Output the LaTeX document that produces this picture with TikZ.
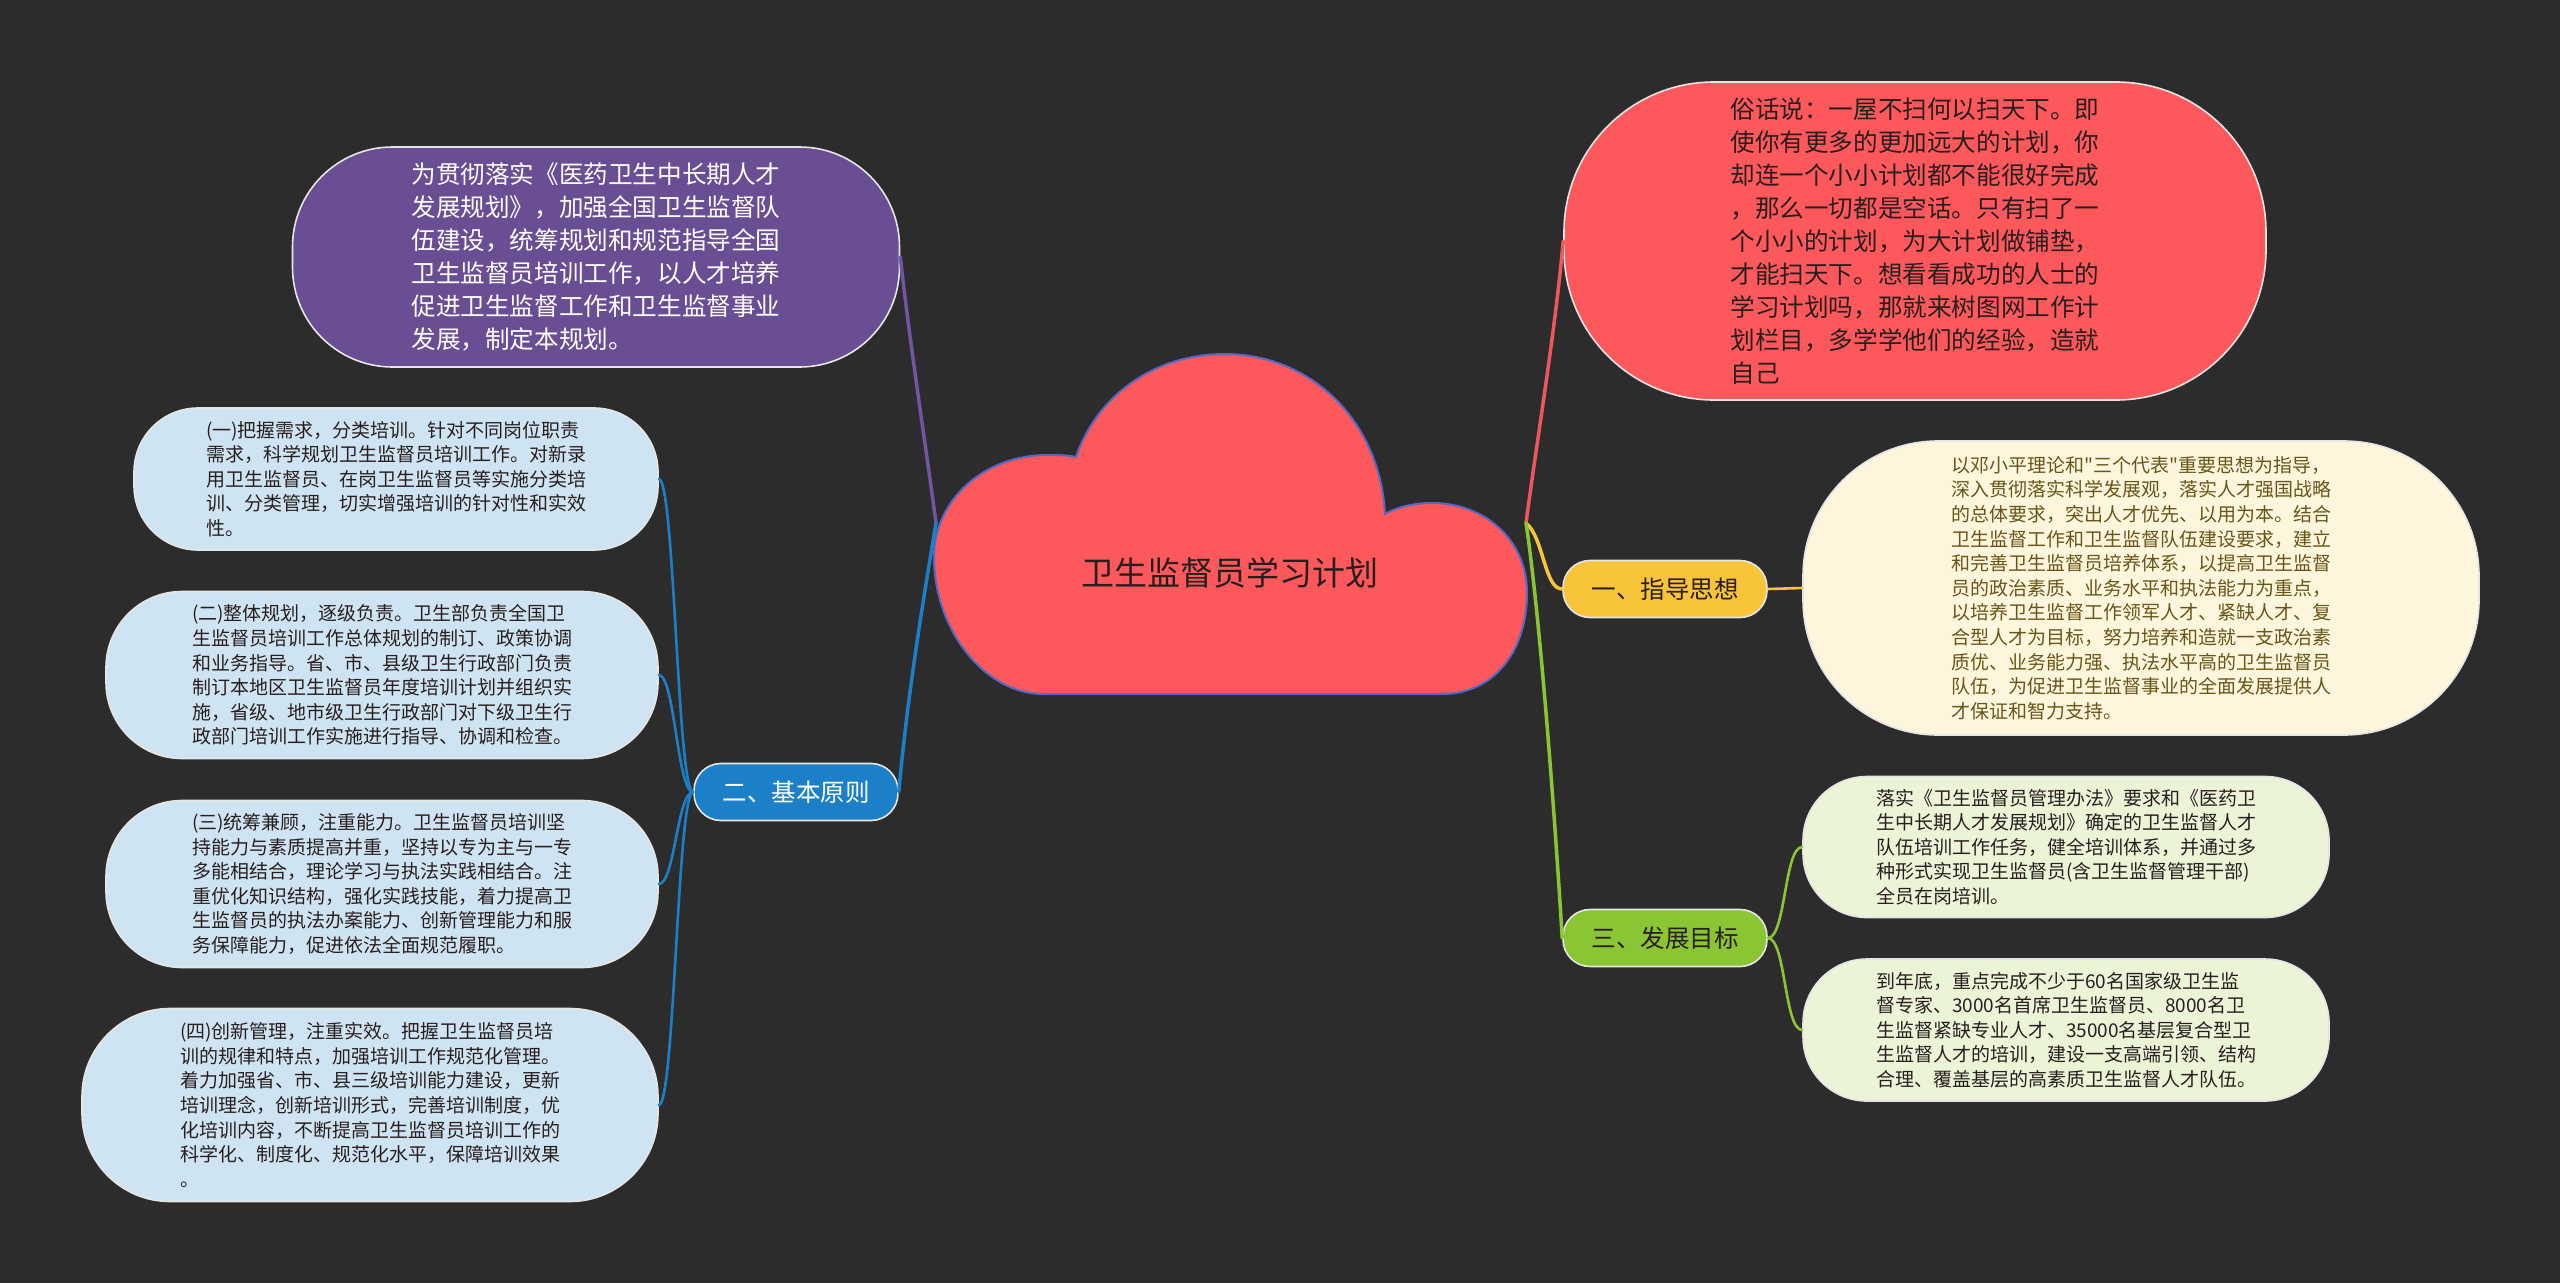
\documentclass[tikz,border=0pt]{standalone}
\usepackage{fontspec}
\setmainfont{Noto Sans CJK SC}[Ligatures=TeXOff]
\usetikzlibrary{positioning,calc}
\definecolor{bgdark}{RGB}{44,44,44}
\definecolor{cloudred}{RGB}{253,89,92}
\definecolor{cloudedge}{RGB}{84,104,196}
\definecolor{introfill}{RGB}{106,78,148}
\definecolor{introline}{RGB}{114,84,164}
\definecolor{quoteline}{RGB}{238,88,92}
\definecolor{guidefill}{RGB}{247,196,58}
\definecolor{creamfill}{RGB}{253,246,221}
\definecolor{creamtext}{RGB}{105,85,25}
\definecolor{goalfill}{RGB}{138,198,52}
\definecolor{goalleaf}{RGB}{236,244,216}
\definecolor{basisfill}{RGB}{28,128,200}
\definecolor{basisleaf}{RGB}{207,228,243}
\definecolor{darktext}{RGB}{40,30,30}
\tikzset{
  pillbox/.style={draw=white!90!black, line width=1.6pt, inner sep=0pt, align=left},
  topicbox/.style={pillbox, align=center, minimum width=204pt, minimum height=57pt,
                   rounded corners=27pt, font=\fontsize{24.5}{30}\selectfont},
  leafbox/.style={pillbox, text=darktext, font=\fontsize{19}{24.6}\selectfont},
  bigbox/.style={pillbox, font=\fontsize{24.6}{33}\selectfont},
  link/.style={line width=3.5pt, line cap=round},
  leaflink/.style={line width=2.6pt, line cap=round},
}

\begin{document}
\begin{tikzpicture}[x=1pt,y=-1pt]
\useasboundingbox (0,0) rectangle (2560,1283);
\fill[bgdark] (0,0) rectangle (2560,1283);

% central cloud
\draw[fill=cloudred, draw=cloudedge, line width=2pt]
  (1043,694) -- (1442,694)
  .. controls (1495,694) and (1527,650) .. (1527,593)
  .. controls (1527,540) and (1485,503) .. (1432,503)
  .. controls (1412,503) and (1395,508) .. (1385,514)
  .. controls (1380,420) and (1310,354) .. (1225,354)
  .. controls (1150,354) and (1095,400) .. (1076,457)
  .. controls (1067,455) and (1057,455) .. (1047,455)
  .. controls (984,455) and (934,500) .. (934,557)
  .. controls (934,630) and (985,694) .. (1043,694) -- cycle;
\node[text=darktext, font=\fontsize{33}{40}\selectfont] (root) at (1230,573) {卫生监督员学习计划};
\coordinate (rootL) at (936,523);
\coordinate (rootR) at (1526,523);

\node[bigbox, fill=introfill, text=white, minimum width=607pt, minimum height=220pt,
      rounded corners=100pt] (intro) at (596,257)
  {为贯彻落实《医药卫生中长期人才\\发展规划》，加强全国卫生监督队\\伍建设，统筹规划和规范指导全国\\卫生监督员培训工作，以人才培养\\促进卫生监督工作和卫生监督事业\\发展，制定本规划。};
\node[bigbox, fill=cloudred, text=darktext, minimum width=702pt, minimum height=318pt,
      rounded corners=150pt] (quote) at (1915,241)
  {俗话说：一屋不扫何以扫天下。即\\使你有更多的更加远大的计划，你\\却连一个小小计划都不能很好完成\\，那么一切都是空话。只有扫了一\\个小小的计划，为大计划做铺垫，\\才能扫天下。想看看成功的人士的\\学习计划吗，那就来树图网工作计\\划栏目，多学学他们的经验，造就\\自己};

\node[topicbox, fill=guidefill, text=darktext] (guide) at (1665,589) {一、指导思想};
\node[leafbox, fill=creamfill, text=creamtext, minimum width=676pt, minimum height=294pt,
      rounded corners=135pt] (guidetxt) at (2141,588)
  {以邓小平理论和"三个代表"重要思想为指导，\\深入贯彻落实科学发展观，落实人才强国战略\\的总体要求，突出人才优先、以用为本。结合\\卫生监督工作和卫生监督队伍建设要求，建立\\和完善卫生监督员培养体系，以提高卫生监督\\员的政治素质、业务水平和执法能力为重点，\\以培养卫生监督工作领军人才、紧缺人才、复\\合型人才为目标，努力培养和造就一支政治素\\质优、业务能力强、执法水平高的卫生监督员\\队伍，为促进卫生监督事业的全面发展提供人\\才保证和智力支持。};

\node[topicbox, fill=goalfill, text=darktext] (goal) at (1665,938) {三、发展目标};
\node[leafbox, fill=goalleaf, minimum width=526pt, minimum height=141pt,
      rounded corners=64pt] (goalA) at (2066,847)
  {落实《卫生监督员管理办法》要求和《医药卫\\生中长期人才发展规划》确定的卫生监督人才\\队伍培训工作任务，健全培训体系，并通过多\\种形式实现卫生监督员(含卫生监督管理干部)\\全员在岗培训。};
\node[leafbox, fill=goalleaf, minimum width=526pt, minimum height=142pt,
      rounded corners=64pt] (goalB) at (2066,1030)
  {到年底，重点完成不少于60名国家级卫生监\\督专家、3000名首席卫生监督员、8000名卫\\生监督紧缺专业人才、35000名基层复合型卫\\生监督人才的培训，建设一支高端引领、结构\\合理、覆盖基层的高素质卫生监督人才队伍。};

\node[topicbox, fill=basisfill, text=white] (basis) at (796,792) {二、基本原则};
\node[leafbox, fill=basisleaf, minimum width=524pt, minimum height=142pt,
      rounded corners=64pt] (basisA) at (396,479)
  {(一)把握需求，分类培训。针对不同岗位职责\\需求，科学规划卫生监督员培训工作。对新录\\用卫生监督员、在岗卫生监督员等实施分类培\\训、分类管理，切实增强培训的针对性和实效\\性。};
\node[leafbox, fill=basisleaf, minimum width=552pt, minimum height=167pt,
      rounded corners=76pt] (basisB) at (382,675)
  {(二)整体规划，逐级负责。卫生部负责全国卫\\生监督员培训工作总体规划的制订、政策协调\\和业务指导。省、市、县级卫生行政部门负责\\制订本地区卫生监督员年度培训计划并组织实\\施，省级、地市级卫生行政部门对下级卫生行\\政部门培训工作实施进行指导、协调和检查。};
\node[leafbox, fill=basisleaf, minimum width=552pt, minimum height=167pt,
      rounded corners=76pt] (basisC) at (382,884)
  {(三)统筹兼顾，注重能力。卫生监督员培训坚\\持能力与素质提高并重，坚持以专为主与一专\\多能相结合，理论学习与执法实践相结合。注\\重优化知识结构，强化实践技能，着力提高卫\\生监督员的执法办案能力、创新管理能力和服\\务保障能力，促进依法全面规范履职。};
\node[leafbox, fill=basisleaf, minimum width=576pt, minimum height=193pt,
      rounded corners=88pt] (basisD) at (370,1105)
  {(四)创新管理，注重实效。把握卫生监督员培\\训的规律和特点，加强培训工作规范化管理。\\着力加强省、市、县三级培训能力建设，更新\\培训理念，创新培训形式，完善培训制度，优\\化培训内容，不断提高卫生监督员培训工作的\\科学化、制度化、规范化水平，保障培训效果\\。};

% branches
\draw[link, introline] (rootL) .. controls +(-12,-90) and +(10,90) .. (intro.east);
\draw[link, basisfill] (rootL) .. controls +(-15,90) and +(8,-90) .. (basis.east);
\draw[link, quoteline] (rootR) .. controls +(12,-90) and +(-8,90) .. (quote.west);
\draw[link, guidefill] (rootR) .. controls +(18,15) and +(-18,0) .. (guide.west);
\draw[link, goalfill] (rootR) .. controls +(15,100) and +(-6,-100) .. (goal.west);
\draw[leaflink, guidefill] (guide.east) -- (guidetxt.west);
\foreach \leaf in {goalA,goalB}
  \draw[leaflink, goalfill] (goal.east) .. controls +(18,0) and +(-18,0) .. (\leaf.west);
\foreach \leaf in {basisA,basisB,basisC,basisD}
  \draw[leaflink, basisfill] (basis.west) .. controls +(-16,0) and +(16,0) .. (\leaf.east);
\end{tikzpicture}
\end{document}
